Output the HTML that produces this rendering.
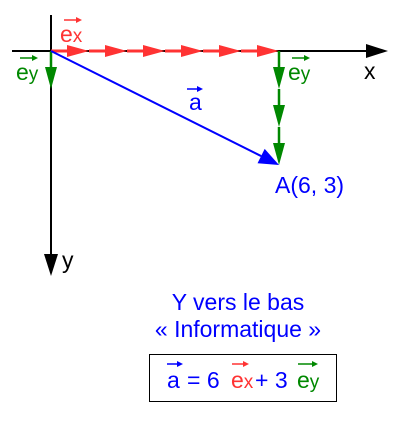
<!DOCTYPE html>
<html><head><meta charset="utf-8"><style>
body{margin:0;background:#fff}
svg text{font-family:"Liberation Sans",sans-serif}
</style></head><body>
<svg id="c" width="411" height="428" viewBox="0 0 411 428" xmlns="http://www.w3.org/2000/svg">
<line x1="12" y1="51" x2="368" y2="51" stroke="#000" stroke-width="2"/>
<path d="M388,51L366,44L366,58z" fill="#000"/>
<line x1="51" y1="15" x2="51" y2="256" stroke="#000" stroke-width="2"/>
<path d="M51,276L44,254L58,254z" fill="#000"/>
<g id="marks"></g>
<text x="364" y="79" font-size="23">x</text>
<text x="62" y="268" font-size="23">y</text>
<g fill="#f33"><text x="60" y="42" font-size="23">e<tspan font-size="19">x</tspan></text><line x1="64" y1="20" x2="78" y2="20" stroke="#f33" stroke-width="1.5"/><path d="M82,20L76,17L76,23z"/></g>
<g fill="#080"><text x="16" y="80" font-size="23">e<tspan font-size="19">y</tspan></text><line x1="20" y1="58" x2="34" y2="58" stroke="#080" stroke-width="1.5"/><path d="M38,58L32,55L32,61z"/></g>
<g fill="#080"><text x="288" y="80" font-size="23">e<tspan font-size="19">y</tspan></text><line x1="292" y1="58" x2="306" y2="58" stroke="#080" stroke-width="1.5"/><path d="M310,58L304,55L304,61z"/></g>
<g fill="#00f"><text x="189" y="110" font-size="23">a</text><line x1="187" y1="89" x2="199" y2="89" stroke="#00f" stroke-width="1.5"/><path d="M203,89L197,86L197,92z"/></g>
<text id="ptlabel" x="272" y="193" font-size="23" fill="#00f">A(6, 3)</text>
<text x="238" y="310" font-size="23" fill="#00f" text-anchor="middle">Y vers le bas</text>
<text x="238" y="337" font-size="23" fill="#00f" text-anchor="middle">« Informatique »</text>
<rect x="149.5" y="354.5" width="187" height="47" fill="none" stroke="#000" stroke-width="1"/>
<g>
<text x="167" y="388" font-size="23" fill="#00f">a</text>
<text x="187" y="388" font-size="23" fill="#00f">= 6</text>
<text x="231" y="388" font-size="23" fill="#f33">e<tspan font-size="19">x</tspan></text>
<text x="255" y="388" font-size="23" fill="#00f">+ 3</text>
<text x="297" y="388" font-size="23" fill="#080">e<tspan font-size="19">y</tspan></text>
<line x1="167" y1="364" x2="178" y2="364" stroke="#00f" stroke-width="1.5"/><path d="M183,364L177,361L177,367z" fill="#00f"/>
<line x1="232" y1="364" x2="244" y2="364" stroke="#f33" stroke-width="1.5"/><path d="M249,364L243,361L243,367z" fill="#f33"/>
<line x1="298" y1="364" x2="313" y2="364" stroke="#080" stroke-width="1.5"/><path d="M318,364L312,361L312,367z" fill="#080"/>
</g>
</svg>
<script>
const components=[6,3];
const unit=[38,38];
const ox=51, oy=51;
const sx=v=>ox+v*unit[0], sy=v=>oy+v*unit[1];
const g=document.getElementById('marks');
const NS='http://www.w3.org/2000/svg';
function arrow(x1,y1,x2,y2,col,w,hl,hw,name){
  const dx=x2-x1, dy=y2-y1, L=Math.hypot(dx,dy), ux=dx/L, uy=dy/L;
  const bx=x2-ux*hl, by=y2-uy*hl;
  const ln=document.createElementNS(NS,'line');
  ln.setAttribute('x1',x1);ln.setAttribute('y1',y1);ln.setAttribute('x2',bx);ln.setAttribute('y2',by);
  ln.setAttribute('stroke',col);ln.setAttribute('stroke-width',w);
  
  
  g.appendChild(ln);
  const p=document.createElementNS(NS,'path');
  p.setAttribute('d',`M${x2},${y2}L${bx-uy*hw},${by+ux*hw}L${bx+uy*hw},${by-ux*hw}z`);
  p.setAttribute('fill',col);
  
  
  g.appendChild(p);
}
for(let i=0;i<components[0];i++) arrow(sx(i),oy,sx(i+1),oy,'#f33',3,22,6,'ex-step-'+(i+1));
for(let j=0;j<components[1];j++) arrow(sx(components[0]),sy(j),sx(components[0]),sy(j+1),'#080',2.5,22,6,'ey-step-'+(j+1));
arrow(ox,oy,ox,sy(1),'#080',2.5,22,6,'ey-unit');
arrow(ox,oy,sx(components[0]),sy(components[1]),'#00f',2,20,8,'vector-a');
const t=document.getElementById('ptlabel');
t.setAttribute('x',sx(components[0])-4);t.setAttribute('y',sy(components[1])+28);
t.textContent='A('+components[0]+', '+components[1]+')';
</script>
</body></html>
